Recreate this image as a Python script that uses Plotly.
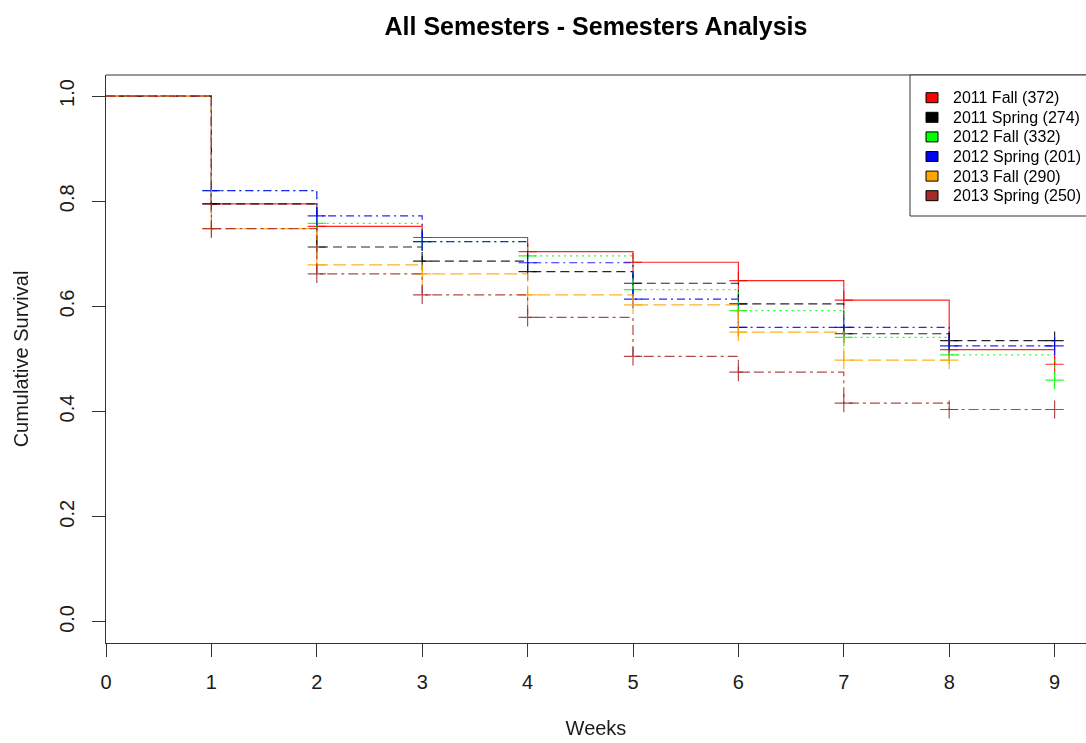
import plotly.graph_objects as go

# Kaplan-Meier style survival estimates by semester (value after each week's step)
weeks = [0, 1, 2, 3, 4, 5, 6, 7, 8, 9]

fall_2011 = [1.0, 0.795, 0.752, 0.731, 0.704, 0.684, 0.649, 0.612, 0.518, 0.490]
spring_2011 = [1.0, 0.795, 0.713, 0.686, 0.666, 0.644, 0.605, 0.548, 0.535, 0.535]
fall_2012 = [1.0, 0.820, 0.758, 0.723, 0.696, 0.632, 0.592, 0.541, 0.508, 0.460]
spring_2012 = [1.0, 0.820, 0.772, 0.723, 0.683, 0.614, 0.560, 0.560, 0.525, 0.525]
fall_2013 = [1.0, 0.748, 0.679, 0.662, 0.622, 0.603, 0.551, 0.498, 0.498]
spring_2013 = [1.0, 0.748, 0.662, 0.622, 0.579, 0.505, 0.475, 0.416, 0.404, 0.404]

semester_names = ["2011 Fall", "2011 Spring", "2012 Fall", "2012 Spring", "2013 Fall", "2013 Spring"]
semester_counts = [372, 274, 332, 201, 290, 250]

x_ticks = [0, 1, 2, 3, 4, 5, 6, 7, 8, 9]
y_ticks = [0.0, 0.2, 0.4, 0.6, 0.8, 1.0]
y_tick_text = ["0.0", "0.2", "0.4", "0.6", "0.8", "1.0"]

series = [fall_2011, spring_2011, fall_2012, spring_2012, fall_2013, spring_2013]
colors = ["#FF0000", "#000000", "#00FF00", "#0000FF", "#FFA500", "#A52A2A"]
dashes = ["solid", "9px,5px", "2px,4px", "8px,4px,2px,4px", "13px,5px", "10px,4px,3px,4px"]

FONT = "Liberation Sans, Arial, sans-serif"
W, H = 1086, 743
ML, MT, MB = 106, 75, 100
PW, PH = W - ML, H - MT - MB

fig = go.Figure()

for name, vals, col, dash in zip(semester_names, series, colors, dashes):
    xs = weeks[:len(vals)]
    fig.add_trace(go.Scatter(
        x=xs, y=vals, mode="lines", line=dict(color=col, width=1.2, dash=dash, shape="hv"),
        opacity=0.85, name=name, showlegend=False, hoverinfo="skip",
    ))
    fig.add_trace(go.Scatter(
        x=xs[1:], y=vals[1:], mode="markers",
        marker=dict(symbol="cross-thin", size=13, line=dict(color=col, width=1.2)),
        opacity=0.85, showlegend=False, hoverinfo="skip",
    ))

# helpers to place legend pieces by pixel position inside the plot area
def px_x(px):
    return (px - ML) / PW

def px_y(py):
    return (MT + PH - py) / PH

shapes = [
    # top border of the plot box
    dict(type="line", xref="paper", yref="paper", x0=0, x1=1, y0=1, y1=1,
         line=dict(color="#333333", width=1)),
    # legend frame
    dict(type="rect", xref="paper", yref="paper", x0=px_x(910), x1=px_x(1100),
         y0=px_y(216), y1=px_y(75), line=dict(color="#333333", width=1),
         fillcolor="white", layer="above"),
]
annotations = []
row0, row_step = 97.7, 19.6
for i, (name, n, col) in enumerate(zip(semester_names, semester_counts, colors)):
    cy = row0 + i * row_step
    shapes.append(dict(type="rect", xref="paper", yref="paper",
                       x0=px_x(926), x1=px_x(938), y0=px_y(cy + 5), y1=px_y(cy - 5),
                       fillcolor=col, line=dict(color="black", width=1), layer="above"))
    annotations.append(dict(xref="paper", yref="paper", x=px_x(951), y=px_y(cy),
                            xanchor="left", yanchor="middle", showarrow=False,
                            text=f"{name} ({n})", font=dict(family=FONT, size=16, color="black")))

fig.update_layout(
    width=W, height=H,
    margin=dict(l=ML, r=0, t=MT, b=MB, autoexpand=False),
    paper_bgcolor="white", plot_bgcolor="white",
    font=dict(family=FONT, color="#1a1a1a"),
    title=dict(text="<b>All Semesters - Semesters Analysis</b>", x=0.5, xref="paper",
               y=1 - 26 / H, yref="container", xanchor="center", yanchor="middle",
               font=dict(family=FONT, size=25, color="black")),
    shapes=shapes, annotations=annotations,
    showlegend=False,
)

fig.update_xaxes(
    range=[0, PW / 105.4], tickmode="array", tickvals=x_ticks,
    ticks="outside", ticklen=13, tickcolor="#333333", tickwidth=1,
    showline=True, linecolor="#333333", linewidth=1, showgrid=False, zeroline=False,
    tickfont=dict(family=FONT, size=20, color="#1a1a1a"), ticklabelstandoff=8,
    title=dict(text="Weeks", font=dict(family=FONT, size=20, color="#1a1a1a"), standoff=28),
)
fig.update_yaxes(
    range=[-0.04, 1.04], tickmode="array", tickvals=y_ticks, ticktext=y_tick_text,
    ticks="outside", ticklen=13, tickcolor="#333333", tickwidth=1, tickangle=-90,
    showline=True, linecolor="#333333", linewidth=1, showgrid=False, zeroline=False,
    tickfont=dict(family=FONT, size=20, color="#1a1a1a"), ticklabelstandoff=10,
    title=dict(text="Cumulative Survival", font=dict(family=FONT, size=20, color="#1a1a1a"),
               standoff=22),
)

fig.write_html("out.html")
